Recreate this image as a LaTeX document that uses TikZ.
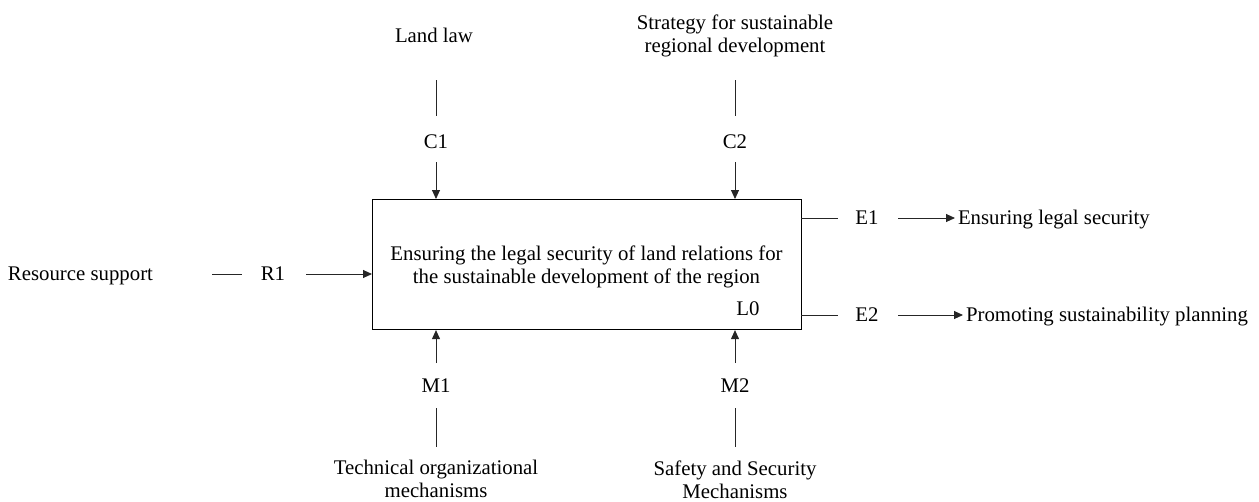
\documentclass[tikz,border=0pt]{standalone}
\usepackage{fontspec}
\setmainfont{Liberation Serif}
\usetikzlibrary{arrows.meta}
\tikzset{
  txt/.style={inner sep=0pt, outer sep=0pt},
  ln/.style={line width=0.9pt, black!85},
  arr/.style={line width=0.9pt, black!85, -{Triangle[length=9pt,width=8pt]}},
  boxst/.style={draw, line width=1.1pt, inner sep=0pt, anchor=north west},
}
\begin{document}
\begin{tikzpicture}[x=1pt,y=-1pt, font=\fontsize{20.8}{23}\selectfont]
\useasboundingbox (0,0) rectangle (1259,501);
% main box
\node[boxst, minimum width=429pt, minimum height=130pt] (box) at (372,199) {};
\node[txt, align=center] (title) at (586.5,266.7) {Ensuring the legal security of land relations for\\the sustainable development of the region};
\node[txt, anchor=base] (L0) at (748,315) {L0};
% controls
\node[txt, anchor=base] (landlaw) at (434,42) {Land law};
\node[txt, align=center] (strategy) at (735,35.7) {Strategy for sustainable\\regional development};
\node[txt, anchor=base] (C1) at (436,148.6) {C1};
\node[txt, anchor=base] (C2) at (735,148.6) {C2};
\coordinate (c1t) at (436,80); \coordinate (c1b) at (436,116);
\coordinate (c2t) at (735,80); \coordinate (c2b) at (735,116);
\coordinate (c1a) at (436,162); \coordinate (c2a) at (735,162);
\draw[ln] (c1t) -- (c1b);
\draw[ln] (c2t) -- (c2b);
\draw[arr] (c1a) -- (c1a |- box.north);
\draw[arr] (c2a) -- (c2a |- box.north);
% input
\node[txt, anchor=base west] (res) at (8,280.5) {Resource support};
\node[txt, anchor=base] (R1) at (273,280.7) {R1};
\coordinate (r1l) at (212,274); \coordinate (r1r) at (242,274);
\coordinate (r1a) at (306,274);
\draw[ln] (r1l) -- (r1r);
\draw[arr] (r1a) -- (r1a -| box.west);
% outputs
\coordinate (e1s) at (801,218); \coordinate (e1e) at (838,218);
\node[txt, anchor=base] (E1) at (867,224.7) {E1};
\coordinate (e1a) at (898,218);
\node[txt, anchor=base west] (out1) at (958,224.7) {Ensuring legal security};
\draw[ln] (e1s) -- (e1e);
\draw[arr] (e1a) -- ([xshift=-3pt]out1.west |- e1a);
\coordinate (e2s) at (801,315); \coordinate (e2e) at (838,315);
\node[txt, anchor=base] (E2) at (867,321.7) {E2};
\coordinate (e2a) at (898,315);
\node[txt, anchor=base west] (out2) at (966,321.7) {Promoting sustainability planning};
\draw[ln] (e2s) -- (e2e);
\draw[arr] (e2a) -- ([xshift=-3pt]out2.west |- e2a);
% mechanisms
\coordinate (m1a) at (436,363); \coordinate (m2a) at (735,363);
\draw[arr] (m1a) -- (m1a |- box.south);
\draw[arr] (m2a) -- (m2a |- box.south);
\node[txt, anchor=base] (M1) at (436,392.7) {M1};
\node[txt, anchor=base] (M2) at (735,392.7) {M2};
\coordinate (m1t) at (436,408); \coordinate (m1b) at (436,447);
\coordinate (m2t) at (735,408); \coordinate (m2b) at (735,447);
\draw[ln] (m1t) -- (m1b);
\draw[ln] (m2t) -- (m2b);
\node[txt, align=center] (tech) at (436,479.3) {Technical organizational\\mechanisms};
\node[txt, align=center] (safety) at (735,479.3) {Safety and Security\\Mechanisms};
\end{tikzpicture}
\end{document}
